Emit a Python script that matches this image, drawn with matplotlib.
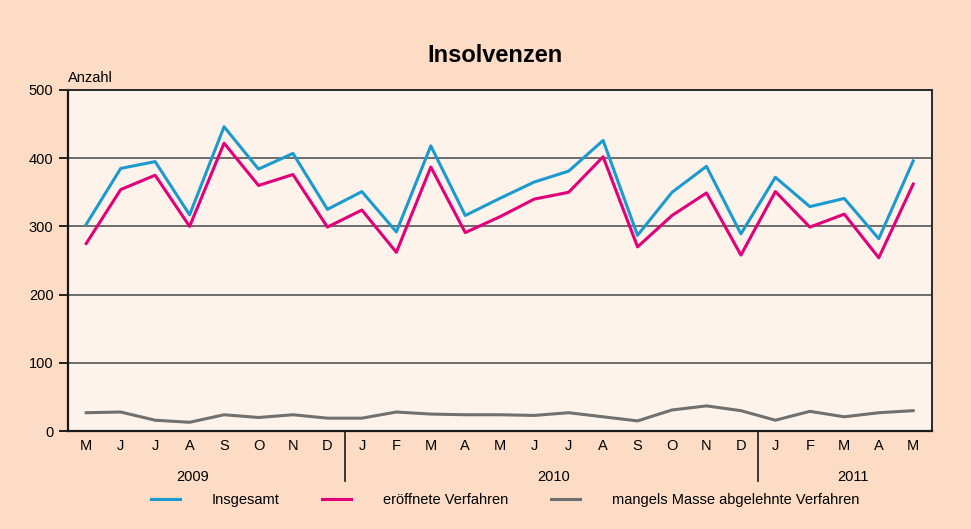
import numpy as np
import matplotlib
matplotlib.use('Agg')
import matplotlib.pyplot as plt

plt.rcParams['font.family'] = ['Liberation Sans', 'DejaVu Sans']

# Monthly data May 2009 - May 2011
months = ['M', 'J', 'J', 'A', 'S', 'O', 'N', 'D',
          'J', 'F', 'M', 'A', 'M', 'J', 'J', 'A', 'S', 'O', 'N', 'D',
          'J', 'F', 'M', 'A', 'M']
years = ['2009', '2010', '2011']

insgesamt = [303, 385, 395, 317, 446, 384, 407, 325,
             351, 292, 418, 316, 341, 365, 381, 426, 287, 350, 388, 289,
             372, 329, 341, 282, 396]
eroeffnet = [275, 354, 375, 300, 422, 360, 376, 299,
             324, 262, 387, 291, 314, 340, 350, 402, 270, 316, 349, 258,
             351, 299, 318, 254, 362]
abgelehnt = [27, 28, 16, 13, 24, 20, 24, 19,
             19, 28, 25, 24, 24, 23, 27, 21, 15, 31, 37, 30,
             16, 29, 21, 27, 30]

FIG_BG = '#FCDCC4'
AX_BG = '#FEF3EA'
BLUE = '#1A9AD0'
RED = '#E2007A'
GREY = '#707070'

fig = plt.figure(figsize=(9.71, 5.29), dpi=100, facecolor=FIG_BG)
ax = fig.add_axes([0.070, 0.185, 0.890, 0.645])
ax.set_facecolor(AX_BG)

x = np.arange(len(months))
ax.plot(x, insgesamt, color=BLUE, lw=2.2, label='Insgesamt', zorder=3)
ax.plot(x, eroeffnet, color=RED, lw=2.2, label='eröffnete Verfahren', zorder=3)
ax.plot(x, abgelehnt, color=GREY, lw=2.2, label='mangels Masse abgelehnte Verfahren', zorder=3)

ax.set_xlim(-0.53, 24.55)
ax.set_ylim(0, 500)
ax.set_yticks(range(0, 501, 100))
ax.set_xticks(x)
ax.set_xticklabels(months)
ax.tick_params(axis='x', length=0, pad=6, labelsize=10.5)
ax.tick_params(axis='y', length=6.5, width=1.2, pad=4, labelsize=10.5)

ax.yaxis.grid(True, color='#555555', lw=1.2, zorder=1)
ax.set_axisbelow(True)
for side in ['left', 'bottom']:
    ax.spines[side].set_linewidth(1.6)
    ax.spines[side].set_color('#1a1a1a')
for side in ['top', 'right']:
    ax.spines[side].set_linewidth(1.4)
    ax.spines[side].set_color('#2a2a2a')

# year separators and labels below the month axis
trans = ax.get_xaxis_transform()
for sep in [7.5, 19.5]:
    ax.plot([sep, sep], [0, -0.145], transform=trans, color='#1a1a1a',
            lw=1.2, clip_on=False)
for pos, yr in zip([3.1, 13.55, 22.25], years):
    ax.text(pos, -0.135, yr, transform=trans, ha='center', va='center',
            fontsize=10.5)

ax.text(0.0, 1.015, 'Anzahl', transform=ax.transAxes, ha='left',
        va='bottom', fontsize=10.5)
fig.text(0.51, 0.895, 'Insolvenzen', ha='center', va='center',
         fontsize=17, fontweight='bold')

fig.legend(loc='center', bbox_to_anchor=(0.52, 0.055), ncol=3, frameon=False,
           fontsize=10.5, handlelength=2.0, handletextpad=2.2,
           columnspacing=2.9)

plt.savefig('out.png', dpi=100, facecolor=FIG_BG)
